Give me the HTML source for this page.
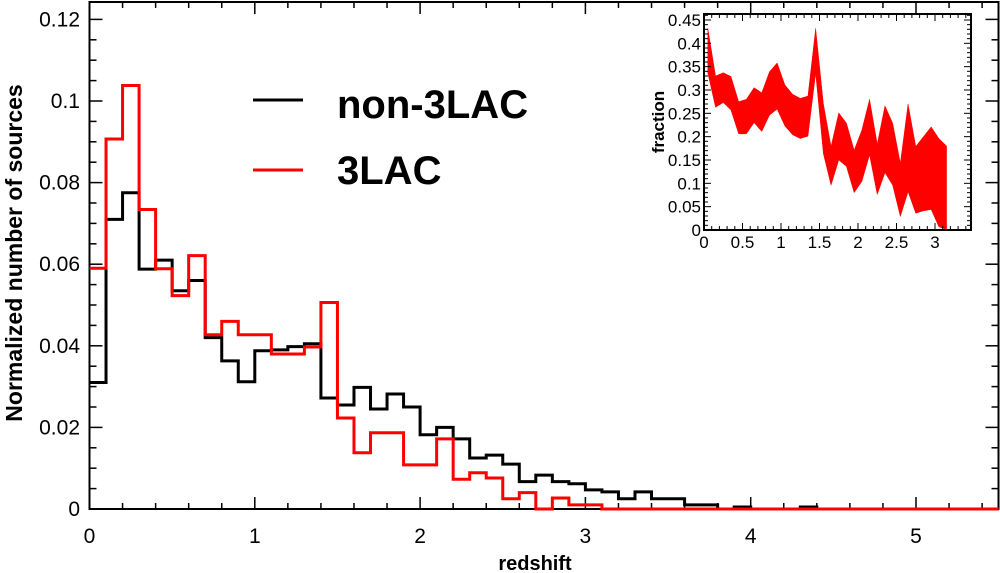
<!DOCTYPE html>
<html><head><meta charset="utf-8"><style>
body{margin:0;background:#fff;}
svg{display:block;font-family:"Liberation Sans",Arial,sans-serif;}
</style></head><body>
<svg id="c" width="1000" height="573" viewBox="0 0 1000 573"></svg>
<script>
const binWidth = 0.1;
const nonLAC = [0.031,0.071,0.0775,0.0588,0.061,0.0535,0.056,0.042,0.0363,0.0312,0.0388,0.039,0.0398,0.0405,0.0272,0.0255,0.0298,0.0245,0.0282,0.025,0.0182,0.02,0.0172,0.0125,0.0132,0.011,0.0067,0.0083,0.0067,0.0062,0.0047,0.0042,0.0025,0.0042,0.0025,0.0025,0.001,0.001,0,0.0005,0,0,0,0.0005,0,0,0,0,0,0,0,0,0,0,0,0];
const lac3 = [0.059,0.0907,0.1038,0.0734,0.0589,0.0523,0.0621,0.0427,0.046,0.0427,0.0427,0.038,0.038,0.0397,0.0506,0.0223,0.0138,0.0187,0.0187,0.0108,0.0108,0.0172,0.0073,0.0089,0.0076,0.0025,0.004,0,0.0027,0.001,0.001,0,0,0,0,0,0,0,0,0,0,0,0,0,0,0,0,0,0,0,0,0,0,0,0];
const xTicks = [0,1,2,3,4,5];
const yTicks = [0,0.02,0.04,0.06,0.08,0.1,0.12];
const yTickLabels = ["0","0.02","0.04","0.06","0.08","0.1","0.12"];
const insetX = [0.05,0.15,0.25,0.35,0.45,0.55,0.65,0.75,0.85,0.95,1.05,1.15,1.25,1.35,1.45,1.55,1.65,1.75,1.85,1.95,2.05,2.15,2.25,2.35,2.45,2.55,2.65,2.75,2.85,2.95,3.05,3.15];
const insetUpper = [0.432,0.33,0.337,0.329,0.275,0.28,0.305,0.294,0.339,0.358,0.311,0.291,0.282,0.287,0.432,0.271,0.179,0.251,0.229,0.171,0.214,0.28,0.184,0.266,0.229,0.143,0.27,0.179,0.2,0.221,0.196,0.18];
const insetLower = [0.336,0.263,0.273,0.257,0.206,0.206,0.23,0.211,0.246,0.259,0.223,0.204,0.196,0.201,0.336,0.164,0.096,0.15,0.136,0.08,0.104,0.161,0.076,0.123,0.096,0.029,0.082,0.036,0.041,0.044,0.007,0.001];
const insetXTicks = [0,0.5,1,1.5,2,2.5,3];
const insetXLabels = ["0","0.5","1","1.5","2","2.5","3"];
const insetYTicks = [0,0.05,0.1,0.15,0.2,0.25,0.3,0.35,0.4,0.45];
const insetYLabels = ["0","0.05","0.1","0.15","0.2","0.25","0.3","0.35","0.4","0.45"];

const NS="http://www.w3.org/2000/svg";
const svg=document.getElementById('c');
function el(t,a,p){const e=document.createElementNS(NS,t);for(const k in a)e.setAttribute(k,a[k]);(p||svg).appendChild(e);return e;}
const L=89.5,R=998.5,T=2,B=509;
const X=v=>L+v*165.3;
const Y=v=>B-v*4080;

let fr=el('rect',{x:L,y:T,width:R-L,height:B-T,fill:'none',stroke:'#000','stroke-width':2});


for(let v=0;v<=5.5001;v+=0.2){const maj=Math.abs(v-Math.round(v))<1e-6;const len=maj?12:6;
 el('line',{x1:X(v),x2:X(v),y1:B,y2:B-len,stroke:'#000','stroke-width':1.5});
 el('line',{x1:X(v),x2:X(v),y1:T,y2:T+len,stroke:'#000','stroke-width':1.5});}
xTicks.forEach(v=>{const t=el('text',{x:X(v),y:543,'font-size':21,'text-anchor':'middle'});t.textContent=String(v);
 
 });
for(let v=0;v<=0.1251;v+=0.005){const maj=Math.abs(v/0.02-Math.round(v/0.02))<1e-6;const len=maj?13:7;
 el('line',{x1:L,x2:L+len,y1:Y(v),y2:Y(v),stroke:'#000','stroke-width':1.5});
 el('line',{x1:R,x2:R-len,y1:Y(v),y2:Y(v),stroke:'#000','stroke-width':1.5});}
yTicks.forEach((v,i)=>{const t=el('text',{x:80,y:Y(v)+7,'font-size':21,'text-anchor':'end'});t.textContent=yTickLabels[i];
 
 });
let xt=el('text',{x:535,y:570,'font-size':20,'font-weight':'bold','text-anchor':'middle'});xt.textContent='redshift';


let yt=el('text',{x:0,y:0,'font-size':23,'font-weight':'bold','text-anchor':'middle',transform:'translate(22,253) rotate(-90)'});yt.textContent='Normalized number of sources';



function hist(vals,color,name){let d='M'+X(0)+','+Y(vals[0]);
 vals.forEach((v,i)=>{d+=' L'+X(i*binWidth)+','+Y(v)+' L'+X(Math.min((i+1)*binWidth,5.5))+','+Y(v);});
 const p=el('path',{d:d,fill:'none',stroke:color,'stroke-width':3,'stroke-linejoin':'miter'});
 
 }
hist(nonLAC,'#000','non-3lac-histogram');
hist(lac3,'#f00','3lac-histogram');

let lg=el('g',{});


el('line',{x1:253,x2:303,y1:100,y2:100,stroke:'#000','stroke-width':3},lg);
el('line',{x1:253,x2:303,y1:170,y2:170,stroke:'#f00','stroke-width':3},lg);
let l1=el('text',{x:337,y:118,'font-size':40,'font-weight':'bold'},lg);l1.textContent='non-3LAC';


let l2=el('text',{x:337,y:184,'font-size':40,'font-weight':'bold'},lg);l2.textContent='3LAC';



const iL=704,iR=971,iT=14,iB=230;
const IX=v=>iL+v*77;
const IY=v=>iB-v*466.7;
let ig=el('g',{});


el('rect',{x:iL,y:iT,width:iR-iL,height:iB-iT,fill:'#fff',stroke:'#000','stroke-width':2},ig);
let pts=insetX.map((x,i)=>IX(x)+','+IY(insetUpper[i]));
for(let i=insetX.length-1;i>=0;i--)pts.push(IX(insetX[i])+','+IY(insetLower[i]));
let band=el('polygon',{points:pts.join(' '),fill:'#f00',stroke:'#f00','stroke-width':0.5},ig);


for(let v=0;v<=3.4501;v+=0.1){const maj=Math.abs(v*2-Math.round(v*2))<1e-6;const len=maj?7:4;
 el('line',{x1:IX(v),x2:IX(v),y1:iB,y2:iB-len,stroke:'#000','stroke-width':1},ig);
 el('line',{x1:IX(v),x2:IX(v),y1:iT,y2:iT+len,stroke:'#000','stroke-width':1},ig);}
for(let v=0;v<=0.4601;v+=0.01){const maj=Math.abs(v/0.05-Math.round(v/0.05))<1e-6;const len=maj?7:4;
 el('line',{x1:iL,x2:iL+len,y1:IY(v),y2:IY(v),stroke:'#000','stroke-width':1},ig);
 el('line',{x1:iR,x2:iR-len,y1:IY(v),y2:IY(v),stroke:'#000','stroke-width':1},ig);}
insetXTicks.forEach((v,i)=>{const t=el('text',{x:IX(v),y:248,'font-size':17,'text-anchor':'middle'},ig);t.textContent=insetXLabels[i];
 
 });
insetYTicks.forEach((v,i)=>{const t=el('text',{x:701,y:IY(v)+6,'font-size':17,'text-anchor':'end'},ig);t.textContent=insetYLabels[i];
 
 });
let it=el('text',{x:0,y:0,'font-size':17,'font-weight':'bold','text-anchor':'middle',transform:'translate(664,122) rotate(-90)'},ig);it.textContent='fraction';


</script>
</body></html>
